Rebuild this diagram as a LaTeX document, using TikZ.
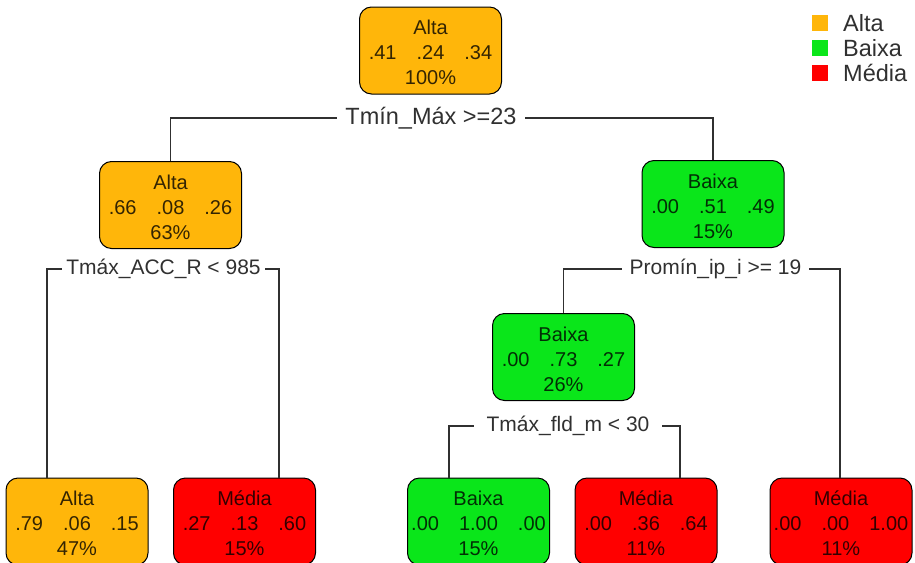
\documentclass[tikz,border=0pt]{standalone}
\usepackage{fontspec}
\setmainfont{Liberation Sans}
\definecolor{alta}{HTML}{FFB60A}
\definecolor{baixa}{HTML}{0AE61A}
\definecolor{media}{HTML}{FF0000}
\definecolor{ink}{HTML}{303030}
\newcommand{\boxstrut}{\rule{0pt}{18.5pt}}
\tikzset{
  treenode/.style={draw=black, line width=1pt, rounded corners=12pt,
    minimum width=142pt, minimum height=87pt, inner sep=0pt, align=center,
    text=black, text opacity=0.8, font=\fontsize{20}{25}\selectfont},
  splitlabel/.style={inner sep=0pt, minimum height=20pt, text=ink,
    font=\fontsize{21}{25}\selectfont},
  branch/.style={draw=ink, line width=1.1pt},
  keytext/.style={anchor=west, inner sep=0pt, text=ink,
    font=\fontsize{23.5}{25}\selectfont},
}
\begin{document}
\begin{tikzpicture}
\begin{scope}[x=1pt, y=-1pt]
  \clip (0, 0) rectangle (915, 562);
  % Draw the inner nodes of the tree.
  \node[treenode, fill=alta] (n1) at (430.5, 50.5) {\boxstrut Alta\\.41\quad.24\quad.34\\100\%};
  \node[treenode, fill=alta] (n2) at (170.5, 205) {\boxstrut Alta\\.66\quad.08\quad.26\\63\%};
  \node[treenode, fill=baixa] (n3) at (713, 204) {\boxstrut Baixa\\.00\quad.51\quad.49\\15\%};
  \node[treenode, fill=baixa] (n7) at (563.5, 357) {\boxstrut Baixa\\.00\quad.73\quad.27\\26\%};
  % Draw the leaves along the bottom.
  \node[treenode, fill=alta] (n4) at (77, 521.5) {\boxstrut Alta\\.79\quad.06\quad.15\\47\%};
  \node[treenode, fill=media] (n5) at (244.5, 521.5) {\boxstrut Média\\.27\quad.13\quad.60\\15\%};
  \node[treenode, fill=baixa] (n14) at (478.5, 521.5) {\boxstrut Baixa\\.00\quad1.00\quad.00\\15\%};
  \node[treenode, fill=media] (n15) at (646, 521.5) {\boxstrut Média\\.00\quad.36\quad.64\\11\%};
  \node[treenode, fill=media] (n6) at (841, 521.5) {\boxstrut Média\\.00\quad.00\quad1.00\\11\%};
  % Annotate the splits.
  \node[splitlabel, minimum width=188pt, font=\fontsize{23.5}{25}\selectfont]
    (s1) at (431, 118) {Tmín\_Máx >=23};
  \node[splitlabel, minimum width=203pt] (s2) at (163.5, 269) {Tmáx\_ACC\_R < 985};
  \node[splitlabel, minimum width=187pt] (s3) at (715.5, 269) {Promín\_ip\_i >= 19};
  \node[splitlabel, minimum width=188pt] (s7) at (568, 426) {Tmáx\_fld\_m < 30};
  % Branch ends above the leaves.
  \coordinate (b4) at (47, 478);
  \coordinate (b5) at (279, 478);
  \coordinate (b6) at (840, 478);
  \coordinate (b14) at (449, 478);
  \coordinate (b15) at (680, 478);
  % Draw the branches.
  \draw[branch] (s1.west) -| (n2.north);
  \draw[branch] (s1.east) -| (n3.north);
  \draw[branch] (s2.west) -| (b4);
  \draw[branch] (s2.east) -| (b5);
  \draw[branch] (s3.west) -| (n7.north);
  \draw[branch] (s3.east) -| (b6);
  \draw[branch] (s7.west) -| (b14);
  \draw[branch] (s7.east) -| (b15);
  % Draw the legend.
  \fill[alta] (812, 15) rectangle (828, 31);
  \fill[baixa] (812, 40) rectangle (828, 56);
  \fill[media] (812, 65) rectangle (828, 81);
  \node[keytext] (kalta) at (843, 23) {Alta};
  \node[keytext] (kbaixa) at (843, 48) {Baixa};
  \node[keytext] (kmedia) at (843, 73) {Média};
\end{scope}
\end{tikzpicture}
\end{document}
